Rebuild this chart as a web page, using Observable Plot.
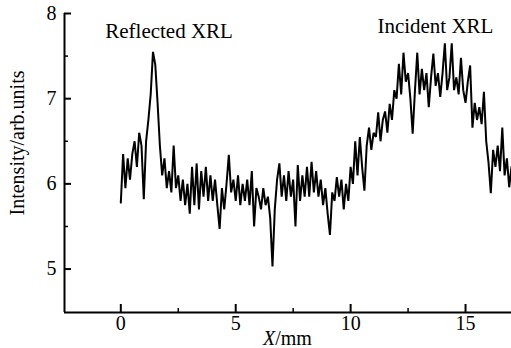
<!DOCTYPE html>
<html>
<head>
<meta charset="utf-8">
<script src="https://cdn.jsdelivr.net/npm/d3@7"></script>
<script src="https://cdn.jsdelivr.net/npm/@observablehq/plot@0.6"></script>
<style>
  html, body { margin: 0; padding: 0; background: #fff; }
  #chart svg { display: block; }
</style>
</head>
<body>
<div id="chart"></div>
<script>
// Sampling of the scan: X (mm) starts at 0 with a 0.1 mm step
const xStart = 0;
const xStep = 0.1;
// Intensity (arb. units), one value per 0.1 mm from 0 to 17 mm
const intensity = [
  5.78, 6.35, 5.95, 6.30, 6.05, 6.35, 6.50, 6.20, 6.60, 6.45,
  5.82, 6.50, 6.75, 7.05, 7.55, 7.40, 6.95, 6.45, 6.10, 6.30,
  5.95, 6.15, 5.90, 6.45, 5.95, 6.10, 5.80, 6.05, 5.75, 6.00,
  5.65, 6.20, 5.75, 6.24, 5.70, 6.15, 5.85, 6.20, 5.80, 6.10,
  5.80, 6.05, 5.75, 5.47, 5.95, 5.70, 6.00, 6.34, 5.90, 6.05,
  5.80, 6.10, 5.75, 6.00, 5.80, 6.05, 5.75, 6.15, 5.50, 5.95,
  5.85, 5.70, 5.95, 5.75, 5.85, 5.60, 5.03, 5.70, 6.05, 6.24,
  5.85, 6.10, 5.80, 6.15, 5.85, 6.05, 5.50, 6.22, 5.80, 6.10,
  5.85, 6.20, 5.85, 6.26, 5.90, 6.15, 5.85, 6.05, 5.75, 5.95,
  5.65, 5.40, 5.90, 5.80, 6.08, 5.85, 6.05, 5.70, 6.00, 5.80,
  6.20, 6.00, 6.50, 6.10, 6.55, 6.20, 5.92, 6.45, 6.66, 6.40,
  6.60, 6.55, 6.84, 6.50, 6.75, 6.85, 6.60, 6.94, 6.75, 7.10,
  7.00, 7.41, 7.05, 7.54, 7.20, 7.30, 7.00, 6.59, 7.10, 7.54,
  7.05, 7.35, 7.10, 7.30, 6.90, 7.25, 7.53, 7.15, 7.30, 7.02,
  7.30, 7.65, 7.10, 7.25, 7.65, 7.10, 7.25, 7.05, 7.48, 7.10,
  6.95, 7.20, 7.39, 6.66, 6.95, 6.75, 6.90, 6.70, 7.08, 6.50,
  6.25, 5.89, 6.40, 6.20, 6.45, 6.15, 6.66, 6.10, 6.30, 5.96, 6.20
];
// Axes
const xDomain = [-2.45, 17];
const yDomain = [4.49, 8];
const xTicks = [0, 5, 10, 15];
const xMinorTicks = [2.5, 7.5, 12.5];
const yTicks = [5, 6, 7, 8];
const yMinorTicks = [5.5, 6.5, 7.5];
const xLabelItalic = "X";
const xLabelRest = "/mm";
const yLabel = "Intensity/arb.units";
// Annotations
const annotations = [
  {text: "Reflected XRL", x: 2.1, y: 7.71},
  {text: "Incident XRL", x: 13.69, y: 7.766}
];
const xLabelSplit = 6.72;

const data = intensity.map((v, i) => ({x: xStart + i * xStep, y: v}));

const font = "'Liberation Serif', 'Times New Roman', serif";
// pixel sizes of the scales (for tick lengths)
const W = 511, H = 348, mL = 64, mR = 0, mT = 13, mB = 36;
const pxX = (W - mL - mR) / (xDomain[1] - xDomain[0]);
const pxY = (H - mT - mB) / (yDomain[1] - yDomain[0]);

const chart = Plot.plot({
  width: W,
  height: H,
  marginLeft: mL,
  marginRight: mR,
  marginTop: mT,
  marginBottom: mB,
  style: {fontFamily: font, fontSize: "20px", background: "#fff", color: "#000", overflow: "visible"},
  x: {domain: xDomain, axis: null},
  y: {domain: yDomain, axis: null},
  marks: [
    // axis lines
    Plot.ruleX([xDomain[0]], {stroke: "#000", strokeWidth: 2, y1: yDomain[0], y2: yDomain[1]}),
    Plot.ruleY([yDomain[0]], {stroke: "#000", strokeWidth: 2.2}),
    // inward ticks
    Plot.ruleX(xTicks, {y1: yDomain[0], y2: yDomain[0] + 8 / pxY, stroke: "#000", strokeWidth: 2}),
    Plot.ruleX(xMinorTicks, {y1: yDomain[0], y2: yDomain[0] + 4 / pxY, stroke: "#000", strokeWidth: 1.5}),
    Plot.ruleY(yTicks, {x1: xDomain[0], x2: xDomain[0] + 7 / pxX, stroke: "#000", strokeWidth: 2}),
    Plot.ruleY(yMinorTicks, {x1: xDomain[0], x2: xDomain[0] + 4 / pxX, stroke: "#000", strokeWidth: 1.5}),
    // tick labels
    Plot.text(xTicks, {x: d => d, text: d => String(d), frameAnchor: "bottom", dy: 3, lineAnchor: "top", textAnchor: "middle", fill: "#000", fontSize: 20, fontFamily: font}),
    Plot.text(yTicks, {y: d => d, text: d => String(d), frameAnchor: "left", dx: -8, lineAnchor: "middle", textAnchor: "end", fill: "#000", fontSize: 20, fontFamily: font}),
    // data
    Plot.line(data, {x: "x", y: "y", stroke: "#000", strokeWidth: 2, strokeLinejoin: "miter", strokeMiterlimit: 2}),
    // annotations
    Plot.text(annotations, {x: "x", y: "y", text: "text", lineAnchor: "bottom", textAnchor: "middle", fill: "#000", fontSize: 21, fontFamily: font}),
    // axis labels
    Plot.text([xLabelItalic], {x: () => xLabelSplit, frameAnchor: "bottom", dy: 32, lineAnchor: "bottom", textAnchor: "end", fontStyle: "italic", fill: "#000", fontSize: 20, fontFamily: font}),
    Plot.text([xLabelRest], {x: () => xLabelSplit, frameAnchor: "bottom", dy: 32, lineAnchor: "bottom", textAnchor: "start", fill: "#000", fontSize: 20, fontFamily: font}),
    Plot.text([yLabel], {frameAnchor: "left", dx: -47, dy: -20, rotate: -90, textAnchor: "middle", lineAnchor: "middle", fill: "#000", fontSize: 20, fontFamily: font})
  ]
});
document.getElementById("chart").appendChild(chart);
</script>
</body>
</html>
